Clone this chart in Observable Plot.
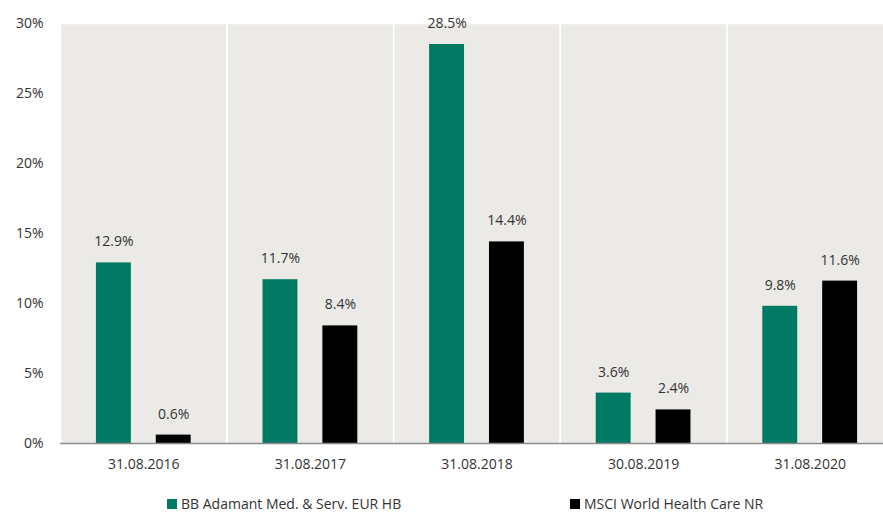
<!DOCTYPE html>
<html>
<head>
<meta charset="utf-8">
<script src="https://cdn.jsdelivr.net/npm/d3@7"></script>
<script src="https://cdn.jsdelivr.net/npm/@observablehq/plot@0.6"></script>
<style>
  html, body { margin: 0; padding: 0; background: white; overflow: hidden; }
  #chart { width: 883px; height: 480px; overflow: hidden; }
  #chart svg { max-width: none !important; }
  #chart svg text { fill: #333; }
  #legend { position: relative; height: 33px; font-family: "Open Sans", sans-serif; font-size: 14px; color: #333; }
  #legend .item { position: absolute; top: 15px; white-space: nowrap; line-height: 17px; }
  #legend .sw { display: inline-block; width: 10px; height: 10px; margin-right: 4px; vertical-align: 0px; }
</style>
</head>
<body>
<div id="chart"></div>
<div id="legend"></div>
<script>
const dates = ["31.08.2016", "31.08.2017", "31.08.2018", "30.08.2019", "31.08.2020"];
const fundValues = [12.9, 11.7, 28.5, 3.6, 9.8];
const benchValues = [0.6, 8.4, 14.4, 2.4, 11.6];
const seriesNames = ["BB Adamant Med. & Serv. EUR HB", "MSCI World Health Care NR"];
const seriesColors = ["#007a63", "#000000"];
const yTicks = [0, 5, 10, 15, 20, 25, 30];

const data = dates.flatMap((d, i) => [
  {date: d, series: seriesNames[0], value: fundValues[i]},
  {date: d, series: seriesNames[1], value: benchValues[i]}
]);

const chart = Plot.plot({
  width: 893,
  height: 480,
  marginLeft: 60,
  marginRight: 0,
  marginTop: 23,
  marginBottom: 37,
  style: {fontFamily: "'Open Sans', sans-serif", fontSize: "14px", color: "#8a8a8a", background: "white", maxWidth: "none"},
  fx: {domain: dates, padding: 0, round: false, label: null, tickSize: 0, tickPadding: 16},
  x: {domain: seriesNames, paddingInner: 0.4167, paddingOuter: 0.6, round: false, axis: null},
  y: {domain: [0, 30], ticks: yTicks, tickFormat: d => d + "%", tickSize: 0, tickPadding: 17, label: null, line: true},
  color: {domain: seriesNames, range: seriesColors},
  marks: [
    Plot.frame({fill: "#ebeae6", stroke: "white", strokeWidth: 1.5}),
    Plot.barY(data, {fx: "date", x: "series", y: "value", fill: "series"}),
    Plot.text(data, {fx: "date", x: "series", y: "value", text: d => d.value.toFixed(1) + "%", dy: -21, fontSize: 14}),
    Plot.ruleY([0], {stroke: "#8a8a8a", strokeWidth: 1.5})
  ]
});
document.getElementById("chart").appendChild(chart);

const legend = document.getElementById("legend");
const legendLeft = [167, 570];
seriesNames.forEach((name, i) => {
  const item = document.createElement("div");
  item.className = "item";
  item.style.left = legendLeft[i] + "px";
  const sw = document.createElement("span");
  sw.className = "sw";
  sw.style.background = seriesColors[i];
  item.appendChild(sw);
  item.appendChild(document.createTextNode(name));
  legend.appendChild(item);
});
</script>
</body>
</html>
